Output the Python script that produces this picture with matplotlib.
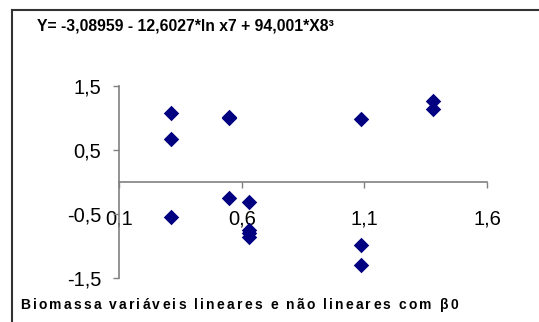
import matplotlib.pyplot as plt
from matplotlib.lines import Line2D

plt.rcParams['font.family'] = ['Liberation Sans', 'DejaVu Sans']

# values
x_vals = [0.311, 0.311, 0.311, 0.549, 0.549, 0.549, 0.629, 0.629, 0.629, 0.629,
          1.087, 1.087, 1.087, 1.379, 1.379]
y_vals = [1.086, 0.679, -0.544, 1.019, 1.0, -0.256, -0.308, -0.752, -0.794, -0.862,
          0.992, -0.982, -1.29, 1.27, 1.139]
x_ticks = [0.1, 0.6, 1.1, 1.6]
y_ticks = [-1.5, -0.5, 0.5, 1.5]
title = "Y= -3,08959 - 12,6027*ln x7 + 94,001*X8³"
footer = "Biomassa variáveis lineares e não lineares com β0"

fig = plt.figure(figsize=(5.39, 3.22), dpi=100)
ax = fig.add_axes([0.2213, 0.1366, 0.6822, 0.5963])

ax.scatter(x_vals, y_vals, marker='D', s=62, color='#000080', zorder=3, linewidths=0)

ax.set_xlim(0.1, 1.6)
ax.set_ylim(-1.5, 1.5)
ax.spines['top'].set_visible(False)
ax.spines['right'].set_visible(False)
ax.spines['bottom'].set_position(('data', 0))
for s in ['left', 'bottom']:
    ax.spines[s].set_color('#808080')
    ax.spines[s].set_linewidth(1.2)

ax.set_xticks(x_ticks)
ax.set_yticks(y_ticks)
fmt = lambda v: f"{v:.1f}".replace('.', ',')
ax.set_xticklabels([fmt(v) for v in x_ticks])
ax.set_yticklabels([fmt(v) for v in y_ticks])
ax.tick_params(axis='x', direction='out', length=4, width=1, color='#808080', pad=15.5, labelsize=14.5)
ax.tick_params(axis='y', direction='out', length=4, width=1, color='#808080', pad=9, labelsize=14.5)
ax.patch.set_alpha(0)

fig.text(0.0686, 0.918, title, fontsize=11.3, fontweight='bold', va='center', ha='left')

# footer, letter-spaced like the original
fig.canvas.draw()
r = fig.canvas.get_renderer()
xpos = 20.5 / 539
for ch in footer:
    t = fig.text(xpos, 1 - 305 / 322, ch, fontsize=10, fontweight='bold', va='center', ha='left')
    w = t.get_window_extent(r).width
    if ch == ' ':
        w = 3.9
    xpos += (w + 2.15) / 539

# frame lines (top and left only visible in the crop)
fig.add_artist(Line2D([12 / 539, 1], [1 - 10 / 322, 1 - 10 / 322], color='#333333', lw=1.5))
fig.add_artist(Line2D([12 / 539, 12 / 539], [0, 1 - 10 / 322], color='#333333', lw=1.5))

fig.savefig('out.png', dpi=100)
